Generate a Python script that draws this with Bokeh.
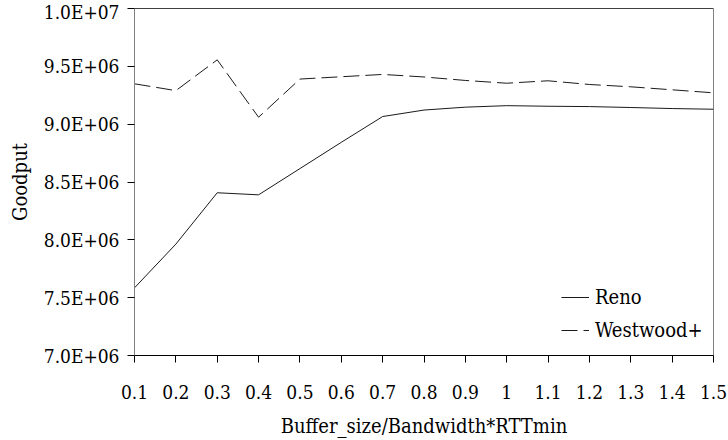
from bokeh.plotting import figure
from bokeh.models import Range1d, FixedTicker, Span, Legend, LegendItem
from bokeh.embed import file_html
from bokeh.resources import INLINE

# Goodput versus normalised buffer size for two TCP variants
ratio = [0.1, 0.2, 0.3, 0.4, 0.5, 0.6, 0.7, 0.8, 0.9, 1.0, 1.1, 1.2, 1.3, 1.4, 1.5]
reno = [7.585e6, 7.963e6, 8.407e6, 8.389e6, 8.616e6, 8.843e6, 9.066e6, 9.122e6,
        9.147e6, 9.160e6, 9.155e6, 9.152e6, 9.144e6, 9.135e6, 9.129e6]
westwood = [9.349e6, 9.290e6, 9.556e6, 9.060e6, 9.390e6, 9.410e6, 9.430e6, 9.408e6,
            9.378e6, 9.354e6, 9.375e6, 9.343e6, 9.323e6, 9.297e6, 9.271e6]

x_tick_labels = ["0.1", "0.2", "0.3", "0.4", "0.5", "0.6", "0.7", "0.8", "0.9",
                 "1", "1.1", "1.2", "1.3", "1.4", "1.5"]
y_ticks = [7.0e6, 7.5e6, 8.0e6, 8.5e6, 9.0e6, 9.5e6, 1.0e7]
y_tick_labels = ["7.0E+06", "7.5E+06", "8.0E+06", "8.5E+06", "9.0E+06", "9.5E+06", "1.0E+07"]

FONT = "DejaVu Serif Condensed"
FS_TICK = "19px"
FS_TEXT = "20px"

p = figure(
    width=728, height=440,
    output_backend="svg", toolbar_location=None,
    x_range=Range1d(0.1, 1.5), y_range=Range1d(7.0e6, 1.0e7),
    min_border_left=134, min_border_right=15,
    min_border_top=8, min_border_bottom=85,
    background_fill_color="white", border_fill_color="white",
)
p.xgrid.visible = False
p.ygrid.visible = False
p.outline_line_color = "#808080"
p.outline_line_width = 1

# top edge of the frame in black
p.add_layout(Span(location=1.0e7, dimension="width", line_color="black", line_width=1))

r_reno = p.line(ratio, reno, line_color="#1a1a1a", line_width=1)
r_west = p.line(ratio, westwood, line_color="#1a1a1a", line_width=1, line_dash="16 6")

# x axis
xa = p.xaxis[0]
xa.ticker = FixedTicker(ticks=ratio)
xa.major_label_overrides = {t: s for t, s in zip(ratio, x_tick_labels)}
xa.minor_tick_line_color = None
xa.major_tick_in = 0
xa.major_tick_out = 7
xa.major_tick_line_color = "black"
xa.axis_line_color = "black"
xa.major_label_standoff = 22
xa.major_label_text_font = FONT
xa.major_label_text_font_size = FS_TICK
xa.major_label_text_color = "black"
xa.axis_label = "Buffer_size/Bandwidth*RTTmin"
xa.axis_label_text_font = FONT
xa.axis_label_text_font_size = FS_TEXT
xa.axis_label_text_font_style = "normal"
xa.axis_label_text_color = "black"
xa.axis_label_standoff = 12

# y axis
ya = p.yaxis[0]
ya.ticker = FixedTicker(ticks=y_ticks)
ya.major_label_overrides = {t: s for t, s in zip(y_ticks, y_tick_labels)}
ya.minor_tick_line_color = None
ya.major_tick_in = 0
ya.major_tick_out = 7
ya.major_tick_line_color = "black"
ya.axis_line_color = "#808080"
ya.major_label_standoff = 8
ya.major_label_text_font = FONT
ya.major_label_text_font_size = FS_TICK
ya.major_label_text_color = "black"
ya.axis_label = "Goodput"
ya.axis_label_text_font = FONT
ya.axis_label_text_font_size = FS_TEXT
ya.axis_label_text_font_style = "normal"
ya.axis_label_text_color = "black"
ya.axis_label_standoff = 9

legend = Legend(
    items=[LegendItem(label="Reno", renderers=[r_reno]),
           LegendItem(label="Westwood+", renderers=[r_west])],
    location=(427, 10),
    padding=0, margin=0, spacing=3,
    glyph_width=28, glyph_height=30, label_height=30,
    label_standoff=6,
    label_text_font=FONT, label_text_font_size=FS_TEXT, label_text_color="black",
    border_line_alpha=0, background_fill_alpha=0,
)
p.add_layout(legend)

open("out.html", "w").write(file_html(p, INLINE))
